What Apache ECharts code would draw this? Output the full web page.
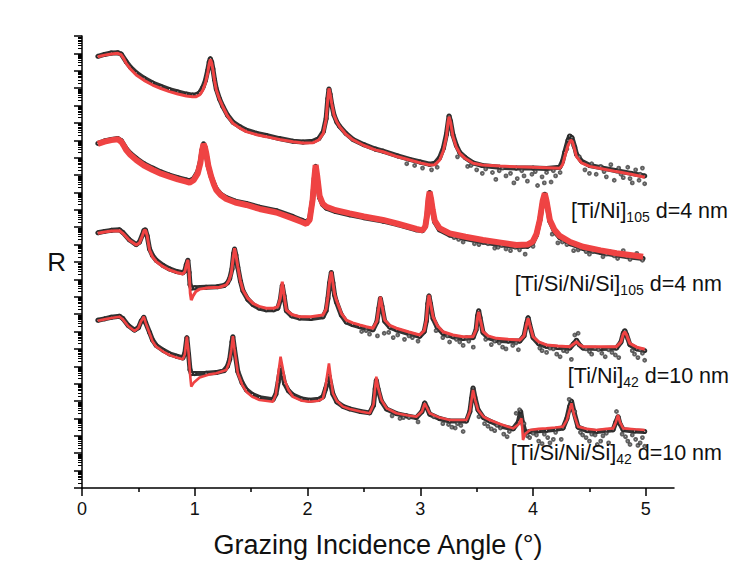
<!DOCTYPE html>
<html>
<head>
<meta charset="utf-8">
<script src="https://cdn.jsdelivr.net/npm/echarts@6/dist/echarts.min.js"></script>
<style>
  html, body { margin: 0; padding: 0; background: #fff; }
  #chart { width: 752px; height: 567px; }
</style>
</head>
<body>
<div id="chart"></div>
<script>
// X-ray reflectivity of four multilayers, curves offset in log10(R).
// Each point: [grazing angle in degrees, log10 R].

// ---------- [Ti/Ni]105, d = 4 nm ----------
const tiNi105Fit = [[0.14,-1.19],[0.2,-1.1],[0.26,-1.03],[0.318,-0.995],[0.348,-1.09],[0.37,-1.3],[0.392,-1.57],[0.43,-1.9],[0.481,-2.24],[0.55,-2.55],[0.626,-2.82],[0.7,-3.02],[0.776,-3.2],[0.85,-3.34],[0.925,-3.45],[0.98,-3.5],[1.013,-3.49],[1.045,-3.38],[1.072,-3.11],[1.095,-2.7],[1.114,-2.15],[1.128,-1.6],[1.138,-1.34],[1.15,-1.55],[1.161,-1.96],[1.175,-2.55],[1.191,-3.11],[1.22,-3.65],[1.249,-4.07],[1.29,-4.6],[1.338,-5.02],[1.4,-5.3],[1.457,-5.5],[1.55,-5.68],[1.634,-5.79],[1.75,-5.95],[1.871,-6.08],[1.96,-6.15],[2.05,-6.14],[2.1,-5.98],[2.14,-5.6],[2.165,-4.8],[2.18,-3.6],[2.19,-3.01],[2.2,-3.3],[2.215,-3.9],[2.235,-4.55],[2.26,-4.95],[2.285,-5.22],[2.34,-5.65],[2.403,-5.98],[2.5,-6.3],[2.6,-6.55],[2.669,-6.66],[2.8,-6.95],[2.906,-7.13],[3.0,-7.3],[3.083,-7.42],[3.13,-7.4],[3.172,-7.13],[3.205,-6.6],[3.232,-5.79],[3.245,-5.0],[3.255,-4.64],[3.268,-4.95],[3.29,-5.79],[3.32,-6.4],[3.35,-6.75],[3.4,-7.05],[3.468,-7.32],[3.55,-7.42],[3.705,-7.48],[3.85,-7.52],[4.0,-7.55],[4.12,-7.58],[4.237,-7.61],[4.262,-7.4],[4.281,-6.94],[4.31,-6.3],[4.335,-5.98],[4.35,-6.1],[4.37,-6.55],[4.385,-6.94],[4.43,-7.3],[4.503,-7.5],[4.62,-7.65],[4.74,-7.8],[4.87,-7.95],[4.991,-8.13]];
const tiNi105Data = [[0.14,-1.17],[0.2,-1.06],[0.26,-0.98],[0.318,-0.96],[0.348,-1.04],[0.392,-1.48],[0.43,-1.8],[0.481,-2.12],[0.55,-2.43],[0.626,-2.7],[0.7,-2.9],[0.776,-3.08],[0.85,-3.22],[0.925,-3.34],[0.98,-3.4],[1.013,-3.38],[1.045,-3.25],[1.072,-2.95],[1.095,-2.55],[1.114,-2.0],[1.128,-1.5],[1.138,-1.3],[1.15,-1.5],[1.161,-1.9],[1.175,-2.5],[1.191,-3.05],[1.22,-3.62],[1.249,-4.05],[1.29,-4.55],[1.338,-4.95],[1.4,-5.22],[1.457,-5.42],[1.55,-5.6],[1.634,-5.72],[1.75,-5.9],[1.871,-6.05],[1.96,-6.1],[2.05,-6.05],[2.1,-5.9],[2.14,-5.5],[2.165,-4.75],[2.18,-3.6],[2.19,-3.05],[2.2,-3.35],[2.215,-3.95],[2.235,-4.55],[2.26,-4.95],[2.285,-5.2],[2.34,-5.6],[2.403,-5.95],[2.5,-6.25],[2.6,-6.5],[2.669,-6.62],[2.8,-6.9],[2.906,-7.1],[3.0,-7.25],[3.083,-7.38],[3.13,-7.32],[3.172,-7.0],[3.205,-6.45],[3.232,-5.65],[3.255,-4.6],[3.268,-4.9],[3.29,-5.7],[3.32,-6.3],[3.35,-6.7],[3.4,-7.0],[3.468,-7.3],[3.55,-7.45],[3.705,-7.55],[3.85,-7.6],[4.0,-7.6],[4.12,-7.62],[4.237,-7.55],[4.262,-7.2],[4.281,-6.7],[4.31,-6.0],[4.325,-5.75],[4.345,-5.85],[4.37,-6.4],[4.385,-6.8],[4.43,-7.2],[4.503,-7.45],[4.62,-7.6],[4.74,-7.75],[4.87,-7.9],[4.991,-8.05]];
const tiNi105Scatter = [[2.88,-7.35],[2.95,-7.45],[3.02,-7.6],[3.1,-7.7],[3.15,-7.55],[3.33,-6.95],[3.42,-7.5],[3.45,-7.45],[3.5,-7.7],[3.55,-7.9],[3.58,-7.65],[3.64,-7.85],[3.67,-8.25],[3.7,-7.75],[3.73,-7.6],[3.76,-8.05],[3.8,-7.9],[3.83,-8.45],[3.86,-8.2],[3.9,-7.75],[3.92,-8.05],[3.95,-8.35],[3.99,-7.95],[4.02,-7.8],[4.04,-8.6],[4.08,-8.1],[4.1,-8.45],[4.12,-7.85],[4.16,-8.4],[4.18,-7.75],[4.2,-8.05],[4.24,-7.85],[4.3,-6.5],[4.36,-6.3],[4.41,-6.95],[4.46,-7.7],[4.5,-7.9],[4.52,-7.35],[4.56,-7.95],[4.6,-7.5],[4.63,-7.8],[4.65,-8.1],[4.69,-7.4],[4.72,-8.3],[4.76,-7.6],[4.78,-7.95],[4.8,-8.15],[4.84,-7.55],[4.86,-8.2],[4.88,-8.45],[4.91,-7.7],[4.94,-8.3],[4.95,-7.95],[4.97,-7.6],[4.99,-8.5]];

// ---------- [Ti/Si/Ni/Si]105, d = 4 nm ----------
const tiSiNiSi105Fit = [[0.14,-6.21],[0.2,-6.08],[0.26,-5.99],[0.318,-5.94],[0.348,-6.08],[0.37,-6.3],[0.392,-6.56],[0.43,-6.85],[0.481,-7.13],[0.55,-7.45],[0.628,-7.71],[0.7,-7.92],[0.776,-8.09],[0.85,-8.25],[0.925,-8.38],[0.954,-8.44],[0.99,-8.3],[1.027,-7.9],[1.05,-7.3],[1.065,-6.6],[1.078,-6.21],[1.09,-6.4],[1.102,-6.75],[1.12,-7.45],[1.146,-8.09],[1.17,-8.55],[1.191,-8.86],[1.23,-9.15],[1.28,-9.38],[1.36,-9.58],[1.457,-9.72],[1.575,-9.95],[1.723,-10.15],[1.868,-10.49],[1.95,-10.7],[1.99,-10.81],[2.019,-10.58],[2.045,-9.43],[2.06,-8.2],[2.072,-7.42],[2.085,-8.0],[2.107,-9.2],[2.135,-9.65],[2.167,-9.82],[2.25,-10.02],[2.374,-10.2],[2.5,-10.38],[2.669,-10.58],[2.8,-10.8],[2.965,-11.1],[3.02,-11.18],[3.045,-10.95],[3.06,-10.3],[3.072,-9.4],[3.083,-8.96],[3.095,-9.35],[3.11,-10.0],[3.128,-10.62],[3.17,-11.05],[3.261,-11.35],[3.4,-11.55],[3.556,-11.73],[3.7,-11.87],[3.853,-12.02],[3.95,-12.0],[3.997,-11.83],[4.03,-11.4],[4.06,-10.58],[4.085,-9.5],[4.104,-9.05],[4.12,-9.5],[4.149,-10.58],[4.19,-11.15],[4.237,-11.5],[4.33,-11.85],[4.444,-12.12],[4.6,-12.33],[4.74,-12.5],[4.86,-12.6],[4.976,-12.7]];
const tiSiNiSi105Data = [[0.14,-6.18],[0.2,-6.04],[0.26,-5.95],[0.318,-5.9],[0.348,-6.02],[0.392,-6.48],[0.43,-6.75],[0.481,-7.03],[0.55,-7.35],[0.628,-7.6],[0.7,-7.82],[0.776,-8.0],[0.85,-8.15],[0.925,-8.28],[0.954,-8.33],[0.99,-8.2],[1.027,-7.8],[1.05,-7.2],[1.065,-6.55],[1.078,-6.2],[1.09,-6.4],[1.102,-6.8],[1.12,-7.5],[1.146,-8.1],[1.17,-8.5],[1.191,-8.8],[1.23,-9.1],[1.28,-9.3],[1.36,-9.5],[1.457,-9.63],[1.575,-9.85],[1.723,-10.05],[1.868,-10.38],[1.95,-10.6],[1.99,-10.72],[2.019,-10.5],[2.045,-9.4],[2.06,-8.2],[2.072,-7.5],[2.085,-8.1],[2.107,-9.3],[2.135,-9.7],[2.167,-9.9],[2.25,-10.1],[2.374,-10.28],[2.5,-10.45],[2.669,-10.65],[2.8,-10.85],[2.965,-11.15],[3.02,-11.2],[3.045,-10.95],[3.06,-10.3],[3.072,-9.45],[3.083,-9.0],[3.095,-9.4],[3.11,-10.1],[3.128,-10.7],[3.17,-11.15],[3.261,-11.45],[3.4,-11.65],[3.556,-11.85],[3.7,-12.0],[3.853,-12.12],[3.95,-12.1],[3.997,-11.9],[4.03,-11.45],[4.06,-10.6],[4.085,-9.55],[4.104,-9.1],[4.12,-9.55],[4.149,-10.65],[4.19,-11.25],[4.237,-11.6],[4.33,-11.95],[4.444,-12.22],[4.6,-12.45],[4.74,-12.6],[4.86,-12.72],[4.976,-12.8]];
const tiSiNiSi105Scatter = [[3.3,-11.6],[3.34,-11.7],[3.38,-11.85],[3.45,-11.7],[3.48,-11.95],[3.52,-12.0],[3.56,-11.85],[3.6,-11.95],[3.66,-12.2],[3.69,-12.15],[3.72,-12.05],[3.76,-12.25],[3.8,-12.35],[3.84,-12.15],[3.88,-12.3],[3.93,-12.55],[4.0,-12.1],[4.17,-11.4],[4.22,-11.9],[4.26,-11.85],[4.3,-12.0],[4.36,-12.35],[4.4,-12.3],[4.42,-12.2],[4.47,-12.4],[4.5,-12.55],[4.53,-12.4],[4.56,-12.3],[4.62,-12.7],[4.65,-12.55],[4.68,-12.4],[4.72,-12.65],[4.75,-12.8],[4.8,-12.35],[4.83,-12.7],[4.86,-12.85],[4.89,-12.65],[4.92,-12.5],[4.95,-12.75],[4.97,-12.9]];

// ---------- [Ti/Ni]42, d = 10 nm ----------
const tiNi42Fit = [[0.14,-11.35],[0.2,-11.27],[0.26,-11.22],[0.333,-11.2],[0.362,-11.35],[0.42,-11.75],[0.481,-12.02],[0.51,-11.9],[0.535,-11.5],[0.55,-11.2],[0.563,-11.16],[0.578,-11.5],[0.599,-12.31],[0.625,-12.7],[0.658,-12.98],[0.72,-13.27],[0.776,-13.46],[0.84,-13.6],[0.894,-13.69],[0.912,-13.55],[0.925,-13.2],[0.939,-12.88],[0.95,-13.6],[0.96,-14.8],[0.969,-15.19],[0.985,-14.95],[1.01,-14.7],[1.043,-14.56],[1.12,-14.48],[1.22,-14.45],[1.279,-14.32],[1.305,-14.05],[1.324,-13.65],[1.34,-12.8],[1.353,-12.21],[1.365,-12.6],[1.382,-13.27],[1.405,-14.1],[1.427,-14.61],[1.47,-15.08],[1.516,-15.38],[1.57,-15.55],[1.634,-15.66],[1.7,-15.66],[1.737,-15.57],[1.758,-15.1],[1.776,-14.13],[1.792,-14.9],[1.812,-15.76],[1.86,-16.02],[1.93,-16.15],[2.03,-16.15],[2.137,-16.05],[2.165,-15.7],[2.181,-15.0],[2.196,-14.1],[2.211,-13.56],[2.225,-14.2],[2.24,-14.85],[2.256,-15.19],[2.3,-15.95],[2.344,-16.34],[2.4,-16.5],[2.462,-16.62],[2.52,-16.72],[2.58,-16.81],[2.615,-16.4],[2.633,-15.6],[2.646,-15.0],[2.66,-15.5],[2.684,-16.34],[2.73,-16.65],[2.788,-16.81],[2.9,-17.03],[2.995,-17.2],[3.035,-16.95],[3.054,-16.34],[3.067,-15.4],[3.077,-14.9],[3.09,-15.35],[3.113,-16.15],[3.15,-16.65],[3.201,-17.01],[3.29,-17.2],[3.379,-17.3],[3.468,-17.3],[3.495,-16.9],[3.508,-16.2],[3.518,-15.86],[3.53,-16.25],[3.556,-17.01],[3.6,-17.25],[3.675,-17.39],[3.78,-17.45],[3.882,-17.49],[3.92,-17.25],[3.942,-16.6],[3.956,-16.24],[3.97,-16.6],[4.0,-17.3],[4.05,-17.6],[4.119,-17.77],[4.22,-17.83],[4.326,-17.87],[4.36,-17.72],[4.385,-17.58],[4.41,-17.75],[4.444,-17.87],[4.6,-17.88],[4.74,-17.87],[4.78,-17.6],[4.8,-17.15],[4.814,-17.01],[4.83,-17.2],[4.858,-17.68],[4.92,-17.9],[4.991,-18.02]];
const tiNi42Data = [[0.14,-11.32],[0.2,-11.24],[0.26,-11.18],[0.333,-11.15],[0.362,-11.3],[0.42,-11.72],[0.481,-12.0],[0.51,-11.85],[0.535,-11.45],[0.55,-11.18],[0.563,-11.15],[0.578,-11.5],[0.599,-12.25],[0.625,-12.62],[0.658,-12.9],[0.72,-13.2],[0.776,-13.4],[0.84,-13.55],[0.894,-13.62],[0.912,-13.5],[0.925,-13.15],[0.939,-12.9],[0.95,-13.6],[0.958,-14.3],[0.97,-14.5],[1.0,-14.48],[1.1,-14.45],[1.2,-14.42],[1.26,-14.35],[1.29,-14.2],[1.31,-13.95],[1.33,-13.4],[1.345,-12.5],[1.353,-12.25],[1.365,-12.6],[1.382,-13.3],[1.405,-14.1],[1.427,-14.65],[1.47,-15.15],[1.516,-15.45],[1.57,-15.65],[1.634,-15.75],[1.7,-15.75],[1.737,-15.65],[1.758,-15.2],[1.776,-14.35],[1.792,-14.95],[1.812,-15.8],[1.86,-16.1],[1.93,-16.22],[2.03,-16.25],[2.137,-16.15],[2.165,-15.8],[2.181,-15.1],[2.196,-14.2],[2.211,-13.6],[2.225,-14.2],[2.24,-14.9],[2.256,-15.3],[2.3,-16.05],[2.344,-16.45],[2.4,-16.6],[2.462,-16.72],[2.52,-16.82],[2.58,-16.9],[2.615,-16.45],[2.633,-15.65],[2.646,-15.1],[2.66,-15.55],[2.684,-16.4],[2.73,-16.75],[2.788,-16.9],[2.9,-17.12],[2.995,-17.28],[3.035,-17.0],[3.054,-16.4],[3.067,-15.4],[3.077,-14.95],[3.09,-15.4],[3.113,-16.25],[3.15,-16.75],[3.201,-17.1],[3.29,-17.3],[3.379,-17.4],[3.468,-17.35],[3.495,-16.9],[3.508,-16.1],[3.518,-15.8],[3.53,-16.2],[3.556,-17.05],[3.6,-17.35],[3.675,-17.5],[3.78,-17.55],[3.882,-17.55],[3.92,-17.25],[3.942,-16.55],[3.956,-16.2],[3.97,-16.6],[4.0,-17.35],[4.05,-17.7],[4.119,-17.85],[4.22,-17.92],[4.326,-17.95],[4.36,-17.7],[4.385,-17.5],[4.41,-17.75],[4.444,-17.95],[4.6,-17.98],[4.74,-17.95],[4.78,-17.6],[4.8,-17.1],[4.814,-16.95],[4.83,-17.2],[4.858,-17.75],[4.92,-18.0],[4.991,-18.1]];
const tiNi42Scatter = [[2.48,-17.0],[2.52,-16.95],[2.55,-17.15],[2.62,-17.25],[2.68,-17.1],[2.72,-17.05],[2.76,-17.35],[2.8,-17.2],[2.86,-17.45],[2.9,-17.25],[2.93,-17.35],[2.98,-17.55],[3.14,-16.95],[3.2,-17.35],[3.24,-17.25],[3.26,-17.6],[3.32,-17.45],[3.35,-17.6],[3.38,-17.8],[3.41,-17.35],[3.43,-17.55],[3.47,-17.9],[3.58,-17.45],[3.63,-17.75],[3.66,-17.55],[3.7,-17.65],[3.73,-17.9],[3.76,-18.0],[3.82,-17.8],[3.85,-17.65],[3.87,-18.05],[4.06,-17.95],[4.08,-18.1],[4.12,-18.2],[4.15,-17.95],[4.18,-18.0],[4.21,-18.3],[4.24,-18.45],[4.27,-18.1],[4.3,-18.15],[4.34,-18.6],[4.37,-17.2],[4.4,-17.1],[4.47,-18.0],[4.5,-18.15],[4.52,-18.3],[4.55,-17.95],[4.58,-18.05],[4.61,-18.25],[4.64,-18.45],[4.67,-18.05],[4.7,-18.2],[4.73,-18.35],[4.76,-18.5],[4.84,-17.4],[4.88,-18.1],[4.9,-18.3],[4.93,-18.5],[4.95,-18.05],[4.97,-18.25],[4.99,-18.65]];

// ---------- [Ti/Si/Ni/Si]42, d = 10 nm ----------
const tiSiNiSi42Fit = [[0.14,-16.38],[0.2,-16.3],[0.26,-16.22],[0.333,-16.15],[0.362,-16.3],[0.41,-16.7],[0.466,-16.97],[0.5,-16.8],[0.525,-16.4],[0.548,-16.15],[0.565,-16.5],[0.599,-17.1],[0.625,-17.55],[0.658,-17.87],[0.72,-18.15],[0.776,-18.35],[0.84,-18.5],[0.894,-18.6],[0.912,-18.3],[0.93,-17.3],[0.945,-18.2],[0.96,-19.6],[0.969,-20.17],[0.99,-19.95],[1.043,-19.64],[1.12,-19.48],[1.191,-19.4],[1.279,-19.21],[1.305,-18.8],[1.324,-18.06],[1.338,-17.26],[1.352,-18.0],[1.382,-19.4],[1.42,-20.05],[1.457,-20.46],[1.51,-20.75],[1.575,-20.94],[1.693,-21.04],[1.72,-20.6],[1.737,-19.6],[1.761,-18.45],[1.78,-19.1],[1.797,-19.79],[1.83,-20.35],[1.87,-20.75],[1.95,-20.98],[2.019,-21.04],[2.1,-20.98],[2.137,-20.84],[2.16,-20.2],[2.172,-19.6],[2.19,-18.83],[2.205,-19.6],[2.225,-20.55],[2.26,-21.0],[2.314,-21.32],[2.374,-21.46],[2.47,-21.6],[2.551,-21.7],[2.585,-21.2],[2.6,-20.2],[2.61,-19.6],[2.625,-20.2],[2.655,-20.94],[2.7,-21.4],[2.788,-21.7],[2.88,-21.82],[2.965,-21.9],[3.015,-21.6],[3.039,-21.13],[3.06,-21.4],[3.083,-21.7],[3.17,-21.95],[3.261,-22.09],[3.409,-22.09],[3.44,-21.6],[3.455,-20.9],[3.468,-20.36],[3.485,-20.9],[3.512,-21.51],[3.56,-21.9],[3.616,-22.09],[3.72,-22.35],[3.823,-22.57],[3.87,-22.35],[3.897,-21.99],[3.905,-22.6],[3.911,-23.24],[3.93,-22.9],[3.971,-22.66],[4.05,-22.6],[4.119,-22.57],[4.2,-22.52],[4.266,-22.47],[4.3,-22.1],[4.325,-21.5],[4.341,-21.13],[4.36,-21.7],[4.399,-22.47],[4.48,-22.6],[4.562,-22.66],[4.65,-22.6],[4.71,-22.57],[4.735,-22.2],[4.754,-21.8],[4.77,-22.2],[4.799,-22.57],[4.9,-22.62],[4.991,-22.66]];
const tiSiNiSi42Data = [[0.14,-16.35],[0.2,-16.27],[0.26,-16.18],[0.333,-16.12],[0.362,-16.25],[0.41,-16.65],[0.466,-16.92],[0.5,-16.78],[0.525,-16.4],[0.548,-16.18],[0.565,-16.5],[0.599,-17.05],[0.625,-17.48],[0.658,-17.8],[0.72,-18.08],[0.776,-18.28],[0.84,-18.42],[0.894,-18.52],[0.912,-18.25],[0.93,-17.35],[0.945,-18.3],[0.958,-19.2],[0.97,-19.42],[1.0,-19.42],[1.1,-19.4],[1.191,-19.36],[1.26,-19.25],[1.29,-19.0],[1.31,-18.6],[1.33,-17.6],[1.338,-17.3],[1.352,-18.0],[1.382,-19.3],[1.42,-19.95],[1.457,-20.35],[1.51,-20.62],[1.575,-20.8],[1.693,-20.92],[1.72,-20.6],[1.74,-19.9],[1.761,-19.05],[1.78,-19.5],[1.797,-20.0],[1.83,-20.4],[1.87,-20.65],[1.95,-20.88],[2.019,-20.95],[2.1,-20.9],[2.137,-20.75],[2.16,-20.3],[2.175,-19.95],[2.19,-19.55],[2.205,-20.0],[2.225,-20.6],[2.26,-21.05],[2.314,-21.3],[2.374,-21.45],[2.47,-21.6],[2.551,-21.68],[2.585,-21.25],[2.6,-20.3],[2.61,-19.8],[2.625,-20.3],[2.655,-21.0],[2.7,-21.45],[2.788,-21.72],[2.88,-21.85],[2.965,-21.95],[3.015,-21.6],[3.039,-21.1],[3.06,-21.4],[3.083,-21.75],[3.17,-22.0],[3.261,-22.15],[3.409,-22.15],[3.44,-21.6],[3.455,-20.85],[3.468,-20.25],[3.485,-20.8],[3.512,-21.5],[3.56,-21.95],[3.616,-22.15],[3.72,-22.45],[3.823,-22.6],[3.87,-22.2],[3.89,-21.6],[3.905,-22.2],[3.93,-22.8],[3.971,-22.75],[4.05,-22.7],[4.119,-22.68],[4.2,-22.62],[4.266,-22.55],[4.3,-22.0],[4.325,-21.3],[4.341,-21.0],[4.36,-21.55],[4.399,-22.5],[4.48,-22.7],[4.562,-22.75],[4.65,-22.7],[4.71,-22.65],[4.735,-22.2],[4.754,-21.9],[4.77,-22.3],[4.799,-22.65],[4.9,-22.72],[4.991,-22.75]];
const tiSiNiSi42Scatter = [[2.75,-21.85],[2.82,-22.0],[2.85,-21.95],[2.9,-21.95],[2.98,-22.2],[3.12,-21.9],[3.2,-22.3],[3.25,-22.35],[3.28,-22.5],[3.31,-22.55],[3.33,-22.3],[3.36,-22.4],[3.38,-22.75],[3.52,-21.9],[3.57,-22.3],[3.6,-22.45],[3.63,-22.6],[3.66,-22.7],[3.68,-22.4],[3.71,-22.55],[3.74,-22.9],[3.77,-23.05],[3.79,-22.75],[3.85,-21.7],[3.88,-21.5],[3.92,-22.3],[3.95,-23.0],[3.97,-23.1],[4.0,-22.85],[4.03,-22.95],[4.05,-23.3],[4.08,-23.45],[4.1,-22.9],[4.13,-23.1],[4.15,-23.4],[4.18,-23.2],[4.2,-22.8],[4.25,-23.2],[4.32,-20.9],[4.37,-21.6],[4.42,-22.8],[4.44,-22.95],[4.47,-23.1],[4.5,-23.3],[4.52,-22.9],[4.55,-22.95],[4.57,-23.5],[4.6,-23.3],[4.62,-23.0],[4.65,-22.85],[4.67,-23.4],[4.74,-21.6],[4.79,-22.9],[4.82,-23.05],[4.84,-23.3],[4.86,-23.5],[4.88,-22.95],[4.91,-23.2],[4.93,-23.55],[4.95,-23.4],[4.97,-23.1],[4.99,-23.6]];

// Axis tick values
const xMajorTicks = [0, 1, 2, 3, 4, 5];
const xMinorTicks = [0.5, 1.5, 2.5, 3.5, 4.5];
const yDecadeMin = -26;
const yDecadeMax = 0;

// Sample names: multilayer stack, number of periods, period thickness
const sampleStack = ['[Ti/Ni]', '[Ti/Si/Ni/Si]', '[Ti/Ni]', '[Ti/Si/Ni/Si]'];
const samplePeriods = ['105', '105', '42', '42'];
const sampleD = ['d=4 nm', 'd=4 nm', 'd=10 nm', 'd=10 nm'];

// log-axis style minor ticks at 2..9 inside every decade
const yMinorTicks = [];
for (let k = yDecadeMin; k < yDecadeMax; k++) {
  for (let m = 2; m <= 9; m++) yMinorTicks.push(k + Math.log10(m));
}

const FONT = '"Liberation Sans", Arial, Helvetica, sans-serif';
const RED = '#ef4343';
const DARK = '#2b2b2b';

const measured = [tiNi105Data, tiSiNiSi105Data, tiNi42Data, tiSiNiSi42Data];
const scatterSets = [tiNi105Scatter, tiSiNiSi105Scatter, tiNi42Scatter, tiSiNiSi42Scatter];
const fits = [tiNi105Fit, tiSiNiSi105Fit, tiNi42Fit, tiSiNiSi42Fit];
const fitWidths = [3, 6, 3, 2.6];
// label anchor (right edge x, vertical centre y) in pixels
const labelRight = [728, 722, 729, 722];
const labelY = [211, 284, 376, 453];

const series = [];
measured.forEach((d) => {
  series.push({
    type: 'line', data: d, xAxisIndex: 0, yAxisIndex: 0,
    symbol: 'emptyCircle', symbolSize: 3, showSymbol: true, showAllSymbol: true,
    itemStyle: { color: DARK, borderWidth: 0.8 },
    lineStyle: { color: '#333', width: 5 },
    z: 2, silent: true
  });
});
scatterSets.forEach((d) => {
  series.push({
    type: 'scatter', data: d, xAxisIndex: 0, yAxisIndex: 0,
    symbol: 'emptyCircle', symbolSize: 2.8,
    itemStyle: { color: '#3a3a3a', borderWidth: 0.7 },
    z: 2, silent: true
  });
});
fits.forEach((d, i) => {
  series.push({
    type: 'line', data: d, xAxisIndex: 0, yAxisIndex: 0,
    showSymbol: false, symbol: 'none',
    lineStyle: { color: RED, width: fitWidths[i] },
    z: 3, silent: true
  });
});

const graphics = sampleStack.map((stack, i) => ({
  type: 'text',
  x: labelRight[i], y: labelY[i],
  style: {
    text: '{m|' + stack + '}{s|' + samplePeriods[i] + '}{m| ' + sampleD[i] + '}',
    align: 'right', verticalAlign: 'middle',
    rich: {
      m: { fontSize: 21.5, fontFamily: FONT, fill: '#111', lineHeight: 26 },
      s: { fontSize: 14, fontFamily: FONT, fill: '#111', lineHeight: 11, verticalAlign: 'bottom' }
    }
  },
  z: 10
}));

const chart = echarts.init(document.getElementById('chart'), null, { renderer: 'svg' });
chart.setOption({
  animation: false,
  backgroundColor: '#fff',
  grid: { left: 82, right: 78, top: 36, bottom: 79, containLabel: false, outerBoundsMode: 'none' },
  xAxis: [
    {
      type: 'value', min: 0, max: 5.25, position: 'bottom',
      name: 'Grazing Incidence Angle (°)', nameLocation: 'middle', nameGap: 43,
      nameTextStyle: { fontSize: 27, fontFamily: FONT, color: '#111' },
      axisLine: { onZero: false, lineStyle: { color: '#000', width: 1.5 } },
      axisTick: { customValues: xMajorTicks, length: 8, lineStyle: { color: '#000', width: 1.5 } },
      axisLabel: { customValues: xMajorTicks, fontSize: 18, fontFamily: FONT, color: '#111', margin: 12 },
      splitLine: { show: false }
    },
    {
      type: 'value', min: 0, max: 5.25, position: 'bottom',
      axisLine: { show: false, onZero: false },
      axisTick: { customValues: xMinorTicks, length: 4, lineStyle: { color: '#000', width: 1.5 } },
      axisLabel: { show: false },
      splitLine: { show: false }
    }
  ],
  yAxis: [
    {
      type: 'value', min: yDecadeMin, max: yDecadeMax, interval: 1, position: 'left',
      name: 'R', nameLocation: 'middle', nameRotate: 0, nameGap: 16,
      nameTextStyle: { fontSize: 26, fontFamily: FONT, color: '#111' },
      axisLine: { onZero: false, lineStyle: { color: '#000', width: 1.5 } },
      axisTick: { length: 8, lineStyle: { color: '#000', width: 1.5 } },
      axisLabel: { show: false },
      splitLine: { show: false }
    },
    {
      type: 'value', min: yDecadeMin, max: yDecadeMax, position: 'left',
      axisLine: { show: false, onZero: false },
      axisTick: { customValues: yMinorTicks, length: 4, lineStyle: { color: '#000', width: 1 } },
      axisLabel: { show: false },
      splitLine: { show: false }
    }
  ],
  series: series,
  graphic: graphics
});
</script>
</body>
</html>
